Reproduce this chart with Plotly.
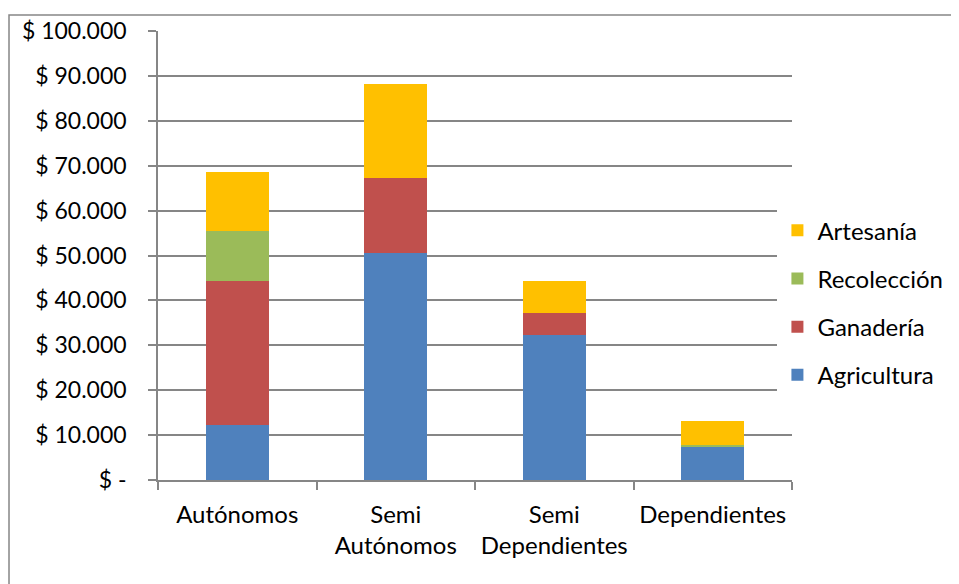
import plotly.graph_objects as go

categories = ["Autónomos", "Semi<br>Autónomos", "Semi<br>Dependientes", "Dependientes"]
agricultura = [12200, 50600, 32400, 7400]
ganaderia = [32100, 16600, 4700, 0]
recoleccion = [11100, 0, 0, 500]
artesania = [13300, 21000, 7200, 5200]

series = [
    ("Agricultura", agricultura, "#4F81BD"),
    ("Ganadería", ganaderia, "#C0504D"),
    ("Recolección", recoleccion, "#9BBB59"),
    ("Artesanía", artesania, "#FFC000"),
]

tick_vals = [0, 10000, 20000, 30000, 40000, 50000, 60000, 70000, 80000, 90000, 100000]
tick_text = ["$ -", "$ 10.000", "$ 20.000", "$ 30.000", "$ 40.000", "$ 50.000",
             "$ 60.000", "$ 70.000", "$ 80.000", "$ 90.000", "$ 100.000"]

FONT = "Lato, Open Sans, sans-serif"
fig = go.Figure()
n = len(series)
for i, (name, vals, color) in enumerate(series):
    fig.add_trace(go.Bar(
        x=categories, y=vals, name=name, marker_color=color,
        marker_line_width=0, width=0.4, legendgroup=f"g{i}",
        legendrank=n - i,
    ))

fig.update_layout(
    barmode="stack",
    width=951, height=576,
    margin=dict(l=150, r=167, t=23, b=104, autoexpand=False),
    paper_bgcolor="white", plot_bgcolor="white",
    font=dict(family=FONT, size=23, color="#000000"),
    showlegend=True,
    legend=dict(
        x=0.977, xanchor="left", y=0.395, yanchor="middle",
        traceorder="grouped", tracegroupgap=14,
        font=dict(size=24), itemwidth=30,
    ),
    xaxis=dict(
        showline=True, linecolor="#868686", linewidth=1.5,
        ticks="outside", ticklen=8, tickcolor="#868686", tickwidth=1.5,
        tickson="boundaries", showgrid=False, tickangle=0, automargin=False,
        tickfont=dict(size=24), ticklabelstandoff=12,
    ),
    yaxis=dict(
        range=[0, 100000], tickvals=tick_vals, ticktext=tick_text,
        showline=True, linecolor="#868686", linewidth=1.5,
        ticks="outside", ticklen=8, tickcolor="#868686", tickwidth=1.5,
        showgrid=True, gridcolor="#868686", gridwidth=1.5, automargin=False,
        tickfont=dict(size=23), ticklabelstandoff=17,
        zeroline=False,
    ),
    shapes=[dict(
        type="rect", xref="paper", yref="paper",
        x0=-0.235, x1=1.4, y0=-0.3, y1=1.0356,
        line=dict(color="#868686", width=1.5), fillcolor="rgba(0,0,0,0)", layer="below",
    )],
)

fig.write_html("out.html")
